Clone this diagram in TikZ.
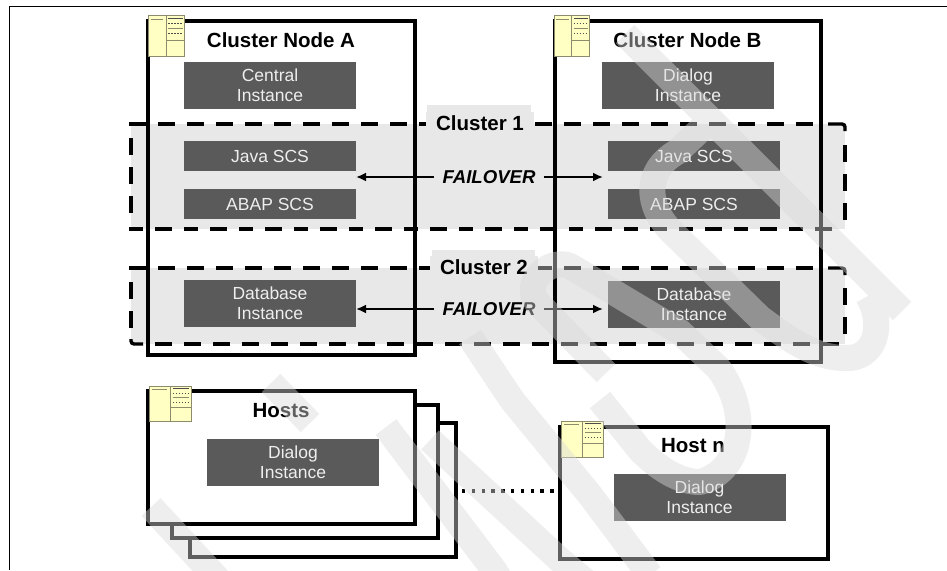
\documentclass[tikz,border=0pt]{standalone}
\usepackage{fontspec}
\setmainfont{Liberation Sans}
\usetikzlibrary{arrows.meta}
\definecolor{boxgray}{HTML}{5A5A5A}
\definecolor{clustergray}{HTML}{E8E8E8}
\definecolor{boxtext}{HTML}{EEEEEE}
\definecolor{iconfill}{HTML}{FFFFC4}
\definecolor{iconline}{HTML}{8C8C6C}
\definecolor{markgray}{HTML}{DADADA}
\tikzset{
  px/.style={x=1pt,y=-1pt},
  hostframe/.style={draw=black,line width=3.6pt,fill=none},
  stackframe/.style={draw=black,line width=3.6pt,fill=white},
  instance/.style={fill=boxgray,draw=none,inner sep=0pt,minimum width=172pt,text=boxtext,align=center,
     font=\fontsize{17.5}{20}\selectfont},
  tallbox/.style={instance,minimum height=47pt},
  lowbox/.style={instance,minimum height=30pt},
  title/.style={font=\fontsize{20.5}{24}\selectfont\bfseries,inner sep=0pt},
  clusterfill/.style={fill=clustergray,draw=none},
  clusterline/.style={draw=black,line width=3.4pt,dash pattern=on 17pt off 12pt},
  clustercorner/.style={draw=black,line width=3.4pt,rounded corners=3pt},
  clusterlabel/.style={title,fill=clustergray,inner xsep=10pt,inner ysep=3pt},
  failover/.style={font=\fontsize{18.6}{22}\selectfont\bfseries\itshape,fill=clustergray,inner xsep=8pt,inner ysep=3pt},
  halflink/.style={draw=black,line width=2.2pt,-{Latex[length=10pt,width=9pt]}},
  dotlink/.style={draw=black,line width=3.4pt,dash pattern=on 3.4pt off 6.4pt},
  watermark/.style={draw=markgray,draw opacity=.44,line width=26pt,line join=round}
}
\newcommand{\servericon}[4]{%
  \begin{scope}[shift={(#1,#2)},xscale=#3,yscale=#4]
    \fill[iconfill,draw=iconline,line width=.8pt] (0,0) rectangle (1,1);
    \draw[iconline,line width=.8pt] (.5,0) -- (.5,1) (.5,.62) -- (1,.62);
    \draw[iconline,line width=1.2pt] (.07,.1) -- (.42,.1);
    \draw[black!70,line width=.9pt] (.56,.08) -- (.96,.08);
    \draw[black!70,line width=.9pt,dash pattern=on 1.5pt off 1.5pt] (.56,.2) -- (.96,.2);
    \draw[iconline,line width=1pt] (.56,.32) -- (.96,.32);
    \draw[black!70,line width=.9pt,dash pattern=on 1.5pt off 1.5pt] (.56,.46) -- (.96,.46);
  \end{scope}}
\begin{document}
\begin{tikzpicture}[px]
\useasboundingbox (0,0) rectangle (947,570);
\fill[white] (0,0) rectangle (947,570);
% page rules
\coordinate (ruleL) at (9,570);
\coordinate (ruleC) at (9,6);
\coordinate (ruleR) at (947,6);
\draw[black,line width=1pt] (ruleL) -- (ruleC) -- (ruleR);
% cluster backgrounds
\fill[clusterfill] (131,124) rectangle (845,229);
\fill[clusterfill] (427,105) rectangle (531,229);
\fill[clusterfill] (131,268) rectangle (845,344);
\fill[clusterfill] (432,250) rectangle (535,344);
% cluster nodes
\draw[hostframe] (148,21) rectangle (415,355);
\draw[hostframe] (555,21) rectangle (821,362);
% cluster 1 outline
\draw[clusterline] (129,124) -- (822,124);
\draw[clustercorner] (828,124) -- (845,124) -- (845,131);
\draw[clusterline] (845,145) -- (845,222);
\draw[clusterline,dash pattern=on 14pt off 12pt on 17pt off 12pt] (129,229) -- (843,229);
\draw[clusterline] (131,138) -- (131,215);
% cluster 2 outline
\draw[clusterline] (129,268) -- (822,268);
\draw[clustercorner] (828,268) -- (845,268) -- (845,275);
\draw[clusterline] (845,288) -- (845,336);
\draw[clusterline] (131,282) -- (131,330);
\draw[clustercorner] (131,339) -- (131,344) -- (143,344);
\draw[clusterline] (155,344) -- (843,344);
% instances in node A
\node[tallbox] (central) at (270,85.5) {Central\\Instance};
\node[lowbox] (javaA) at (270,156) {Java SCS};
\node[lowbox] (abapA) at (270,204) {ABAP SCS};
\node[tallbox] (dbA) at (270,303.5) {Database\\Instance};
% instances in node B
\node[tallbox] (dialogB) at (688,85.5) {Dialog\\Instance};
\node[lowbox] (javaB) at (694,156) {Java SCS};
\node[lowbox] (abapB) at (694,204) {ABAP SCS};
\node[tallbox] (dbB) at (694,304.5) {Database\\Instance};
% titles
\node[title] (titleA) at (281,40) {Cluster Node A};
\node[title] (titleB) at (687.5,40) {Cluster Node B};
\node[clusterlabel] (c1) at (480,123) {Cluster 1};
\node[clusterlabel] (c2) at (484,267) {Cluster 2};
% failover
\node[failover] (f1) at (489,177) {FAILOVER};
\node[failover] (f2) at (489,309) {FAILOVER};
\coordinate (a1) at (356,177);
\coordinate (b1) at (603,177);
\coordinate (a2) at (356,309);
\coordinate (b2) at (603,309);
\draw[halflink] (f1) -- (a1);
\draw[halflink] (f1) -- (b1);
\draw[halflink] (f2) -- (a2);
\draw[halflink] (f2) -- (b2);
% hosts stack
\draw[stackframe] (190,423) rectangle (456,557);
\draw[stackframe] (172,405) rectangle (438,538);
\draw[stackframe] (148,391) rectangle (415,524);
\node[title] (hosts) at (281,411) {Hosts};
\node[tallbox] (dialogH) at (293,462) {Dialog\\Instance};
% host n
\draw[stackframe] (560,427) rectangle (828,559);
\node[title] (hostn) at (693,446) {Host n};
\node[tallbox] (dialogN) at (699.5,497) {Dialog\\Instance};
\coordinate (dotS) at (462,491);
\coordinate (dotE) at (555,491);
\draw[dotlink] (dotS) -- (dotE);
% server icons
\servericon{148}{15}{36}{41}
\servericon{554}{15}{35}{41}
\servericon{149}{386}{42}{35}
\servericon{561}{421}{42}{36}
% watermark
\draw[watermark]
  (625,34) -- (902,311)
  (868,296) .. controls (885,325) and (875,360) .. (845,358)
     .. controls (815,358) and (790,340) .. (760,318)
     -- (672,232) .. controls (645,205) and (645,170) .. (677,152) -- (702,128)
  (606,373) -- (535,300) .. controls (525,280) and (550,258) .. (570,266)
     -- (680,332) -- (718,368) .. controls (750,410) and (745,470) .. (700,482)
     .. controls (680,482) and (660,470) .. (640,450) -- (600,400)
  (151,507) -- (240,603)
  (271,383) -- (310,423)
  (386,427) -- (494,570) -- (510,595)
  (470,337) -- (512,400) -- (590,495) -- (650,575)
  (430,440) -- (560,560) -- (590,585);
\end{tikzpicture}
\end{document}
